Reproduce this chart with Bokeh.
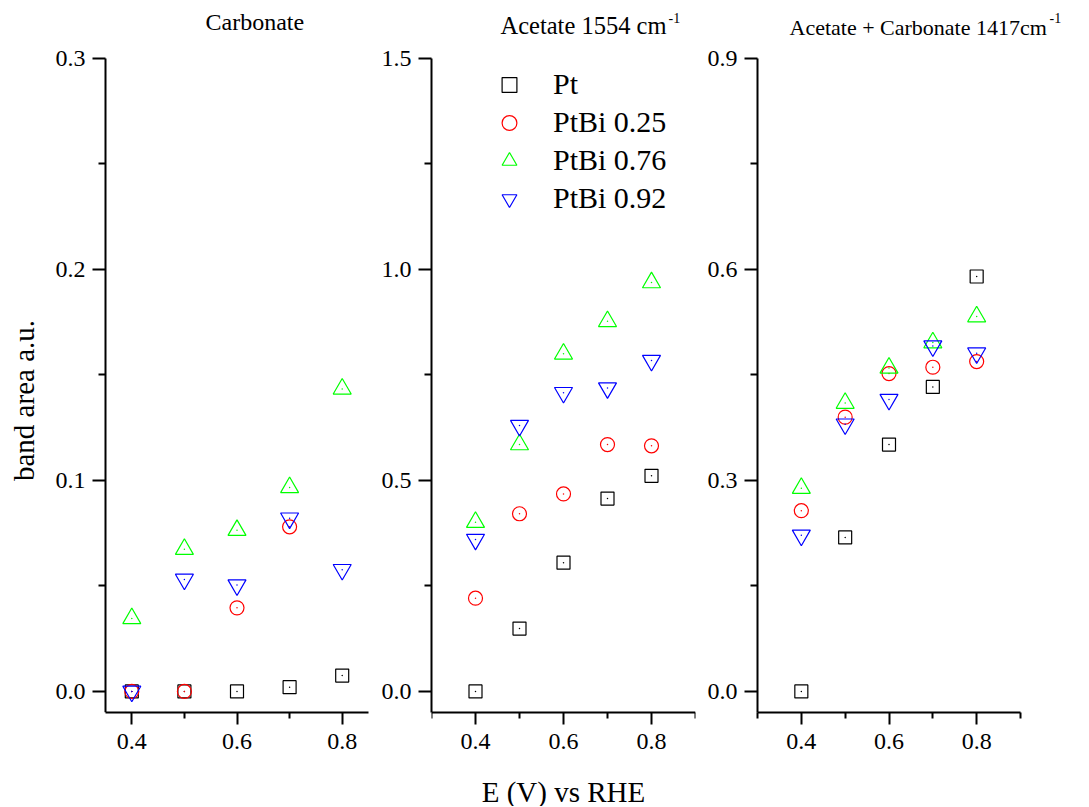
import math
from bokeh.plotting import figure
from bokeh.layouts import row
from bokeh.models import FixedTicker, PrintfTickFormatter, Range1d, Label, Legend, LegendItem
from bokeh.embed import file_html
from bokeh.resources import INLINE

nan = float("nan")

potential = [0.4, 0.5, 0.6, 0.7, 0.8]
series_names = ["Pt", "PtBi 0.25", "PtBi 0.76", "PtBi 0.92"]

carbonate_pt = [0.0, 0.0, 0.0, 0.002, 0.0075]
carbonate_ptbi025 = [0.0, 0.0, 0.0396, 0.078, nan]
carbonate_ptbi076 = [0.0346, 0.0674, 0.0764, 0.0967, 0.1434]
carbonate_ptbi092 = [0.0, 0.0531, 0.0504, 0.0821, 0.0577]

acetate_pt = [0.0, 0.149, 0.305, 0.457, 0.511]
acetate_ptbi025 = [0.221, 0.421, 0.468, 0.585, 0.582]
acetate_ptbi076 = [0.401, 0.585, 0.800, 0.877, 0.969]
acetate_ptbi092 = [0.360, 0.630, 0.708, 0.719, 0.784]

mixed_pt = [0.0, 0.219, 0.351, 0.433, 0.590]
mixed_ptbi025 = [0.257, 0.390, 0.452, 0.461, 0.469]
mixed_ptbi076 = [0.289, 0.410, 0.460, 0.496, 0.533]
mixed_ptbi092 = [0.222, 0.380, 0.415, 0.491, 0.481]

x_major = [0.4, 0.6, 0.8]
x_minor = [0.3, 0.5, 0.7, 0.9]

markers = ["square", "circle", "triangle", "inverted_triangle"]
sizes = [13, 14, 18, 18]
colors = ["#000000", "#FF0000", "#00FF00", "#0000FF"]

FONT = "Liberation Serif"
PLOT_H = 654      # px height of the y axis
TOP_PAD = 58      # px above the axes kept inside the frame for titles
BOTTOM = 94       # px below the x axis


def make_panel(xr, yr, ymajor, yminor, axis_w, left_pad, right_pad, bl, br, extend_bottom, series):
    xmin, xmax = xr
    ymin, ymax = yr
    xs = (xmax - xmin) / axis_w
    ys = (ymax - ymin) / PLOT_H
    ytop = ymax + ys * TOP_PAD
    ybot = ymin - ys * BOTTOM if extend_bottom else ymin
    p = figure(frame_width=axis_w + left_pad + right_pad,
               frame_height=PLOT_H + TOP_PAD + (BOTTOM if extend_bottom else 0),
               min_border_left=bl, min_border_right=br, min_border_top=0,
               min_border_bottom=0 if extend_bottom else BOTTOM,
               x_range=Range1d(xmin - xs * left_pad, xmax + xs * right_pad),
               y_range=Range1d(ybot, ytop),
               output_backend="svg", toolbar_location=None)
    p.xgrid.visible = False
    p.ygrid.visible = False
    p.outline_line_color = None
    p.background_fill_color = "white"
    p.border_fill_color = "white"
    p.xaxis.ticker = FixedTicker(ticks=[t for t in x_major if xmin <= t <= xmax],
                                 minor_ticks=[t for t in x_minor if xmin - 1e-9 <= t <= xmax + 1e-9])
    p.yaxis.ticker = FixedTicker(ticks=ymajor, minor_ticks=yminor)
    p.yaxis.bounds = (ymin, ymax)
    p.xaxis.bounds = (xmin, xmax)
    if left_pad:
        p.yaxis.fixed_location = xmin
    if extend_bottom:
        p.xaxis.fixed_location = ymin
    for ax in list(p.xaxis) + list(p.yaxis):
        ax.formatter = PrintfTickFormatter(format="%.1f")
        ax.axis_line_width = 2
        ax.major_tick_line_width = 2
        ax.minor_tick_line_width = 2
        ax.major_tick_in = 0
        ax.minor_tick_in = 0
        ax.major_label_text_font = FONT
        ax.major_label_text_font_size = "24px"
        ax.major_label_text_color = "black"
        ax.axis_line_color = "black"
        ax.major_tick_line_color = "black"
        ax.minor_tick_line_color = "black"
    p.yaxis.major_tick_out = 13
    p.yaxis.minor_tick_out = 7
    p.yaxis.major_label_standoff = 7
    p.xaxis.major_tick_out = 12
    p.xaxis.minor_tick_out = 6
    p.xaxis.major_label_standoff = 9
    rends = []
    for vals, m, s, c in zip(series, markers, sizes, colors):
        r1 = p.scatter(potential, vals, marker=m, size=s, line_color=c, fill_color=None, line_width=1.2)
        p.scatter(potential, vals, marker="dot", size=6, line_color=c, fill_color=c)
        rends.append(r1)
    return p, rends


p1, _ = make_panel((0.35, 0.85), (-0.01, 0.3), [0.0, 0.1, 0.2, 0.3], [0.05, 0.15, 0.25],
                   263, 105, 0, 0, 10, False,
                   [carbonate_pt, carbonate_ptbi025, carbonate_ptbi076, carbonate_ptbi092])
p2, rends2 = make_panel((0.3, 0.9), (-0.05, 1.5), [0.0, 0.5, 1.0, 1.5], [0.25, 0.75, 1.25],
                        264, 0, 0, 52, 9, True,
                        [acetate_pt, acetate_ptbi025, acetate_ptbi076, acetate_ptbi092])
p3, _ = make_panel((0.3, 0.9), (-0.03, 0.9), [0.0, 0.3, 0.6, 0.9], [0.15, 0.45, 0.75],
                   263, 0, 55, 52, 0, False,
                   [mixed_pt, mixed_ptbi025, mixed_ptbi076, mixed_ptbi092])


def text(p, x, y, s, xoff, yoff, size, align="left", angle=0.0):
    p.add_layout(Label(x=x, y=y, x_offset=xoff, y_offset=yoff, text=s, angle=angle,
                       text_font=FONT, text_font_size=size, text_font_style="normal",
                       text_align=align, text_baseline="middle", text_color="black"))


# panel titles
text(p1, 0.35, 0.3, "Carbonate", 100, 37, "24px")
text(p2, 0.3, 1.5, "Acetate 1554 cm", 69, 33, "24.5px")
text(p2, 0.3, 1.5, "-1", 237, 41, "14px")
text(p3, 0.3, 0.9, "Acetate + Carbonate 1417cm", 32, 31.5, "22px")
text(p3, 0.3, 0.9, "-1", 292, 40.5, "14px")

# axis titles
text(p1, 0.35, -0.01, "band area a.u.", -82, 312, "29px", align="center", angle=math.pi / 2)
text(p2, 0.6, -0.05, "E (V) vs RHE", 0, -79, "29px", align="center")

legend = Legend(items=[LegendItem(label=n, renderers=[r]) for n, r in zip(series_names, rends2)],
                location=(59, 589.5), padding=0, margin=0, spacing=1,
                glyph_width=38, glyph_height=37, label_height=37, label_standoff=25,
                label_text_font=FONT, label_text_font_size="30px", label_text_color="black",
                border_line_color=None, background_fill_alpha=0)
p2.add_layout(legend)

layout = row(p1, p2, p3)
open("out.html", "w").write(file_html(layout, INLINE))
